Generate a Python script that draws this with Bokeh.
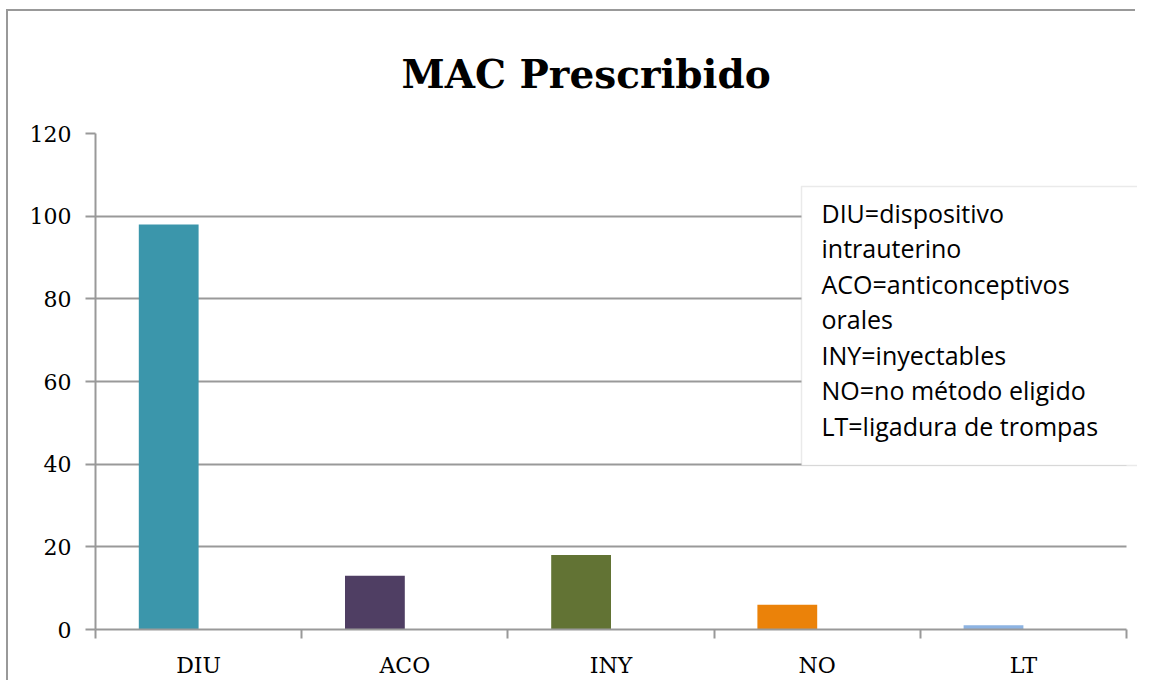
from bokeh.plotting import figure
from bokeh.models import Range1d, FixedTicker, BoxAnnotation, Label, ColumnDataSource
from bokeh.embed import file_html
from bokeh.resources import INLINE

# ---- data ----
categories = ["DIU", "ACO", "INY", "NO", "LT"]
values = [98, 13, 18, 6, 1]
colors = ["#3B96AB", "#4F3E63", "#627334", "#EB8209", "#8DB3E2"]
y_ticks = [0, 20, 40, 60, 80, 100, 120]
title_text = "MAC Prescribido"
note_lines = [
    "DIU=dispositivo",
    "intrauterino",
    "ACO=anticonceptivos",
    "orales",
    "INY=inyectables",
    "NO=no método eligido",
    "LT=ligadura de trompas",
]

GRID = "#999999"
SERIF = "DejaVu Serif"
OX, OY = 8, 11          # canvas offset inside the bordered chart area
n = len(categories)

idx = list(range(n))
bar_w = 0.29
src = ColumnDataSource(dict(
    x=[i + 0.21 + bar_w / 2 for i in idx],
    top=values,
    color=colors,
))

W, H = 1137 - OX, 682 - OY
frame_left, frame_top, frame_bottom = 95 - OX, 132 - OY, 629 - OY
x_end = n * (1137 - 95) / (1126 - 95)   # frame reaches canvas edge, axis stops at n

p = figure(width=W, height=H, output_backend="svg", toolbar_location=None,
           x_range=Range1d(0, x_end), y_range=Range1d(0, 120),
           min_border_left=frame_left, min_border_right=0,
           min_border_top=frame_top, min_border_bottom=H - frame_bottom)
p.styles = {"margin-left": "8px", "margin-top": "11px", "margin-bottom": "-8px",
            "box-shadow": "-2px -2px 0 0 #999999"}

p.title.text = title_text
p.title.align = "left"
p.title.offset = 401 - 95
p.title.standoff = 74
p.title.text_font = SERIF
p.title.text_font_style = "bold"
p.title.text_font_size = "39px"
p.title.text_color = "black"

p.outline_line_color = None
p.background_fill_color = "white"
p.border_fill_color = "white"

p.vbar(x="x", top="top", width=bar_w, bottom=0, color="color", source=src, line_color=None)

# y axis
p.yaxis.ticker = FixedTicker(ticks=y_ticks)
p.yaxis.axis_line_color = GRID
p.yaxis.axis_line_width = 2
p.yaxis.major_tick_line_color = GRID
p.yaxis.major_tick_line_width = 2
p.yaxis.major_tick_out = 10
p.yaxis.major_tick_in = 0
p.yaxis.minor_tick_line_color = None
p.yaxis.major_label_text_font = SERIF
p.yaxis.major_label_text_font_size = "22px"
p.yaxis.major_label_text_color = "black"
p.yaxis.major_label_standoff = 14

p.ygrid.ticker = FixedTicker(ticks=y_ticks)
p.ygrid.grid_line_color = GRID
p.ygrid.grid_line_width = 2
p.ygrid.cross_bounds = (0, n)
p.xgrid.grid_line_color = None

# x axis: labels at category centres, tick marks at category boundaries
p.xaxis.bounds = (0, n)
p.xaxis.ticker = FixedTicker(ticks=[i + 0.5 for i in idx],
                             minor_ticks=list(range(n + 1)))
p.xaxis.major_label_overrides = {i + 0.5: c for i, c in zip(idx, categories)}
p.xaxis.axis_line_color = GRID
p.xaxis.axis_line_width = 2
p.xaxis.major_tick_line_color = None
p.xaxis.minor_tick_line_color = GRID
p.xaxis.minor_tick_line_width = 2
p.xaxis.minor_tick_out = 9
p.xaxis.minor_tick_in = 0
p.xaxis.major_label_text_font = SERIF
p.xaxis.major_label_text_font_size = "22px"
p.xaxis.major_label_text_color = "black"
p.xaxis.major_label_standoff = 14

# text box
p.add_layout(BoxAnnotation(left=801 - OX, right=1160 - OX, top=186 - OY, bottom=465 - OY,
                           left_units="canvas", right_units="canvas",
                           top_units="canvas", bottom_units="canvas",
                           fill_color="white", fill_alpha=1.0,
                           line_color="#BBBBBB", line_width=1.5))
for k, line in enumerate(note_lines):
    p.add_layout(Label(x=821 - OX, y=212 - OY + 35.5 * k, x_units="canvas", y_units="canvas",
                       text=line, text_font="Open Sans", text_font_size="25px",
                       text_color="black", text_baseline="alphabetic", text_align="left"))

open("out.html", "w").write(file_html(p, INLINE))
